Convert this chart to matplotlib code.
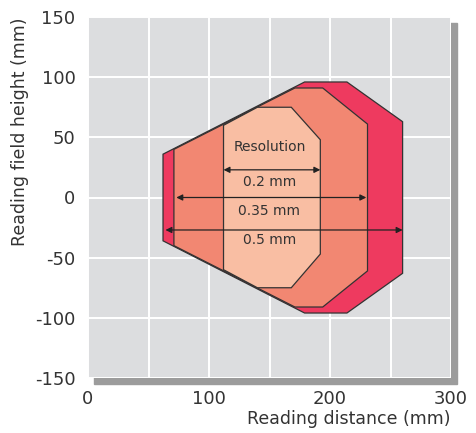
import matplotlib
matplotlib.use("Agg")
import matplotlib.pyplot as plt
from matplotlib.patches import Polygon, Rectangle

plt.rcParams['font.family'] = ['DejaVu Sans']
plt.rcParams['axes.unicode_minus'] = False

# Reading field outlines (distance mm, height mm)
outer_x = [62, 179, 214, 260, 260, 214, 179, 62]
outer_y = [36, 96, 96, 63, -63, -96, -96, -36]
mid_x = [71, 171, 194, 231, 231, 194, 171, 71]
mid_y = [40, 91, 91, 61, -61, -91, -91, -40]
inner_x = [112, 140, 168, 192, 192, 168, 140, 112]
inner_y = [60, 75, 75, 48, -47, -75, -75, -60]

# Resolution arrows
res_labels = ['0.2 mm', '0.35 mm', '0.5 mm']
arrow_y = [23, 0, -27]
arrow_x0 = [112, 73, 64]
arrow_x1 = [192, 230, 260]
label_y = [13, -11, -35]

x_grid = [0, 50, 100, 150, 200, 250, 300]
x_labels = ['0', '', '100', '', '200', '', '300']
y_ticks = [-150, -100, -50, 0, 50, 100, 150]

fig = plt.figure(figsize=(4.77, 4.33), dpi=100)
ax = fig.add_axes([88/477, 1-378/433, 363/477, 361/433])
ax.set_facecolor('#dcdddf')

# drop shadow behind the plot area
fig.patches.append(Rectangle((94/477, 1-384/433), 363/477, 361/433,
                             transform=fig.transFigure, color='#9c9c9c', zorder=-1))

ax.set_xlim(0, 300)
ax.set_ylim(-150, 150)
ax.grid(True, color='white', lw=1.4)
ax.set_axisbelow(True)
for s in ax.spines.values():
    s.set_visible(False)

for xs, ys, c in [(outer_x, outer_y, '#ee3a5f'), (mid_x, mid_y, '#f28772'), (inner_x, inner_y, '#f9bea3')]:
    ax.add_patch(Polygon(list(zip(xs, ys)), closed=True, facecolor=c,
                         edgecolor='#333333', lw=0.9, zorder=2))

for lab, y, x0, x1, ly in zip(res_labels, arrow_y, arrow_x0, arrow_x1, label_y):
    ax.annotate('', xy=(x1, y), xytext=(x0, y),
                arrowprops=dict(arrowstyle='<|-|>', color='#222222', lw=0.9,
                                shrinkA=0, shrinkB=0, mutation_scale=9), zorder=3)
    ax.text(150, ly, lab, ha='center', va='center', fontsize=10, color='#333333', zorder=3)
ax.text(150, 42, 'Resolution', ha='center', va='center', fontsize=10, color='#333333', zorder=3)

ax.set_xticks(x_grid)
ax.set_xticklabels(x_labels)
ax.set_yticks(y_ticks)
ax.tick_params(length=0, labelsize=13, colors='#333333', pad=9)
ax.set_xlabel('Reading distance (mm)', fontsize=12.5, color='#333333', loc='right', labelpad=1)
ax.set_ylabel('Reading field height (mm)', fontsize=12.5, color='#333333', loc='top', labelpad=4)

fig.savefig('out.png', dpi=100)
